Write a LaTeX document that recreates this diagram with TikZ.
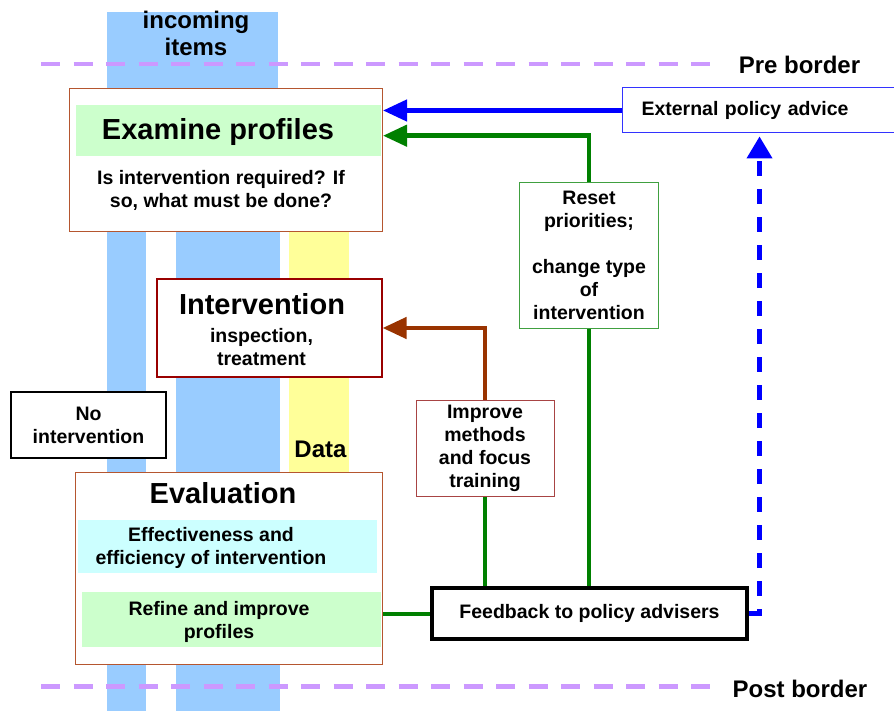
\documentclass[tikz,border=0pt]{standalone}
\usepackage{fontspec}
\setmainfont{Liberation Sans}
\usetikzlibrary{arrows.meta,calc}
\definecolor{LBlue}{HTML}{99CCFF}
\definecolor{LYellow}{HTML}{FFFF99}
\definecolor{LGreen}{HTML}{CCFFCC}
\definecolor{LCyan}{HTML}{CCFFFF}
\definecolor{PBorder}{HTML}{CC99FF}
\definecolor{ABlue}{HTML}{0000FF}
\definecolor{EBlue}{HTML}{3333FF}
\definecolor{FGreen}{HTML}{008000}
\definecolor{RGreen}{HTML}{40A040}
\definecolor{ABrown}{HTML}{993300}
\definecolor{BRust}{HTML}{B5562F}
\definecolor{DRed}{HTML}{990000}
\definecolor{PRed}{HTML}{A84444}
\tikzset{
    block/.style = {draw, rectangle, fill=white, inner sep=0pt, align=center},
    band/.style = {rectangle, inner sep=0pt},
    bigtext/.style = {font=\fontsize{29}{33}\selectfont\bfseries, inner sep=0pt},
    midtext/.style = {font=\fontsize{24}{27}\selectfont\bfseries, inner sep=0pt, align=center},
    smalltext/.style = {font=\fontsize{19.5}{23}\selectfont\bfseries, inner sep=0pt, align=center},
    arrow/.style = {draw, line width=4.5pt, -{Triangle[length=24pt,width=21pt]}},
    link/.style = {draw, line width=4pt},
    borderline/.style = {draw=PBorder, line width=4.3pt, dash pattern=on 19pt off 13.5pt}
}

\begin{document}
\begin{tikzpicture}[x=1pt,y=-1pt]
    \useasboundingbox (0,0) rectangle (894,711);
    % item streams and data
    \fill[LBlue] (107,12) rectangle (278,100);
    \fill[LBlue] (107,220) rectangle (146,711);
    \fill[LBlue] (176,220) rectangle (280,711);
    \fill[LYellow] (289,220) rectangle (349,480);
    \node[midtext] (incoming) at (196,33) {incoming\\items};
    \node[midtext, anchor=base] (data) at (320.5,457.5) {Data};
    % borders
    \draw[borderline] (41,64) -- (713,64);
    \draw[borderline] (41,686.5) -- (713,686.5);
    \node[midtext, anchor=base] (pre) at (799.5,74) {Pre border};
    \node[midtext, anchor=base] (post) at (800,697) {Post border};

    % examine profiles
    \node[block, draw=BRust, line width=1pt, minimum width=313pt, minimum height=143pt] (examine) at (226,160) {};
    \node[band, fill=LGreen, minimum width=305pt, minimum height=50.5pt] (examineband) at (228.5,130.3) {};
    \node[bigtext, anchor=base] (examinetitle) at (218,140) {Examine profiles};
    \node[smalltext] (examinetext) at (221,190) {Is intervention required? If\\so, what must be done?};
    \node[block, draw=EBlue, line width=1pt, anchor=west, minimum height=45pt, text width=236pt, inner xsep=19pt, align=left,
          font=\fontsize{19.5}{23}\selectfont\bfseries] (external) at (622,110.5) {External policy advice};

    % intervention
    \node[block, draw=DRed, line width=1.2pt, minimum width=225pt, minimum height=98pt] (interv) at (269.5,328) {};
    \node[bigtext, anchor=base] (intervtitle) at (262,315) {Intervention};
    \node[smalltext] (intervtext) at (261.5,347) {inspection,\\treatment};
    \node[block, line width=1.5pt, minimum width=155pt, minimum height=66pt, smalltext] (nointerv) at (88.5,425) {No\\intervention};

    % feedback loops
    \node[block, draw=RGreen, line width=1pt, minimum width=139pt, minimum height=145pt, smalltext] (reset) at (589,255.5)
          {Reset\\priorities;\\[23pt]change type\\of\\intervention};
    \node[block, draw=PRed, line width=1pt, minimum width=138pt, minimum height=96pt, smalltext] (improve) at (485,448)
          {Improve\\methods\\and focus\\training};

    % evaluation
    \node[block, draw=BRust, line width=1pt, minimum width=307pt, minimum height=192pt] (eval) at (229,568) {};
    \node[bigtext, anchor=base] (evaltitle) at (223,503) {Evaluation};
    \node[band, fill=LCyan, minimum width=299pt, minimum height=53pt] (effband) at (227.5,546.5) {};
    \node[smalltext] (efftext) at (211,548) {Effectiveness and\\efficiency of intervention};
    \node[band, fill=LGreen, minimum width=299pt, minimum height=55pt] (refineband) at (231.5,619.5) {};
    \node[smalltext] (refinetext) at (219,621.5) {Refine and improve\\profiles};
    \node[block, line width=4.3pt, minimum width=315pt, minimum height=51pt, smalltext] (feedback) at (589.5,613.5)
          {Feedback to policy advisers};

    % connectors
    \draw[arrow, draw=ABlue] (external.west) -- (external.west -| examine.east);
    \draw[arrow, draw=FGreen] (reset.north) |- ([yshift=24.3pt]examine.east);
    \draw[arrow, draw=ABrown] (improve.north) |- (interv.east);
    \draw[link, draw=FGreen] (reset.south) -- (reset.south |- feedback.north);
    \draw[link, draw=FGreen] (improve.south) -- (improve.south |- feedback.north);
    \draw[link, draw=FGreen] (eval.east |- feedback.west) -- (feedback.west);
    \draw[draw=ABlue, line width=4.3pt, dash pattern=on 15pt off 13pt, -{Triangle[length=22pt,width=25pt]}]
          (feedback.east) -| ([yshift=-3pt]external.south);
\end{tikzpicture}
\end{document}
